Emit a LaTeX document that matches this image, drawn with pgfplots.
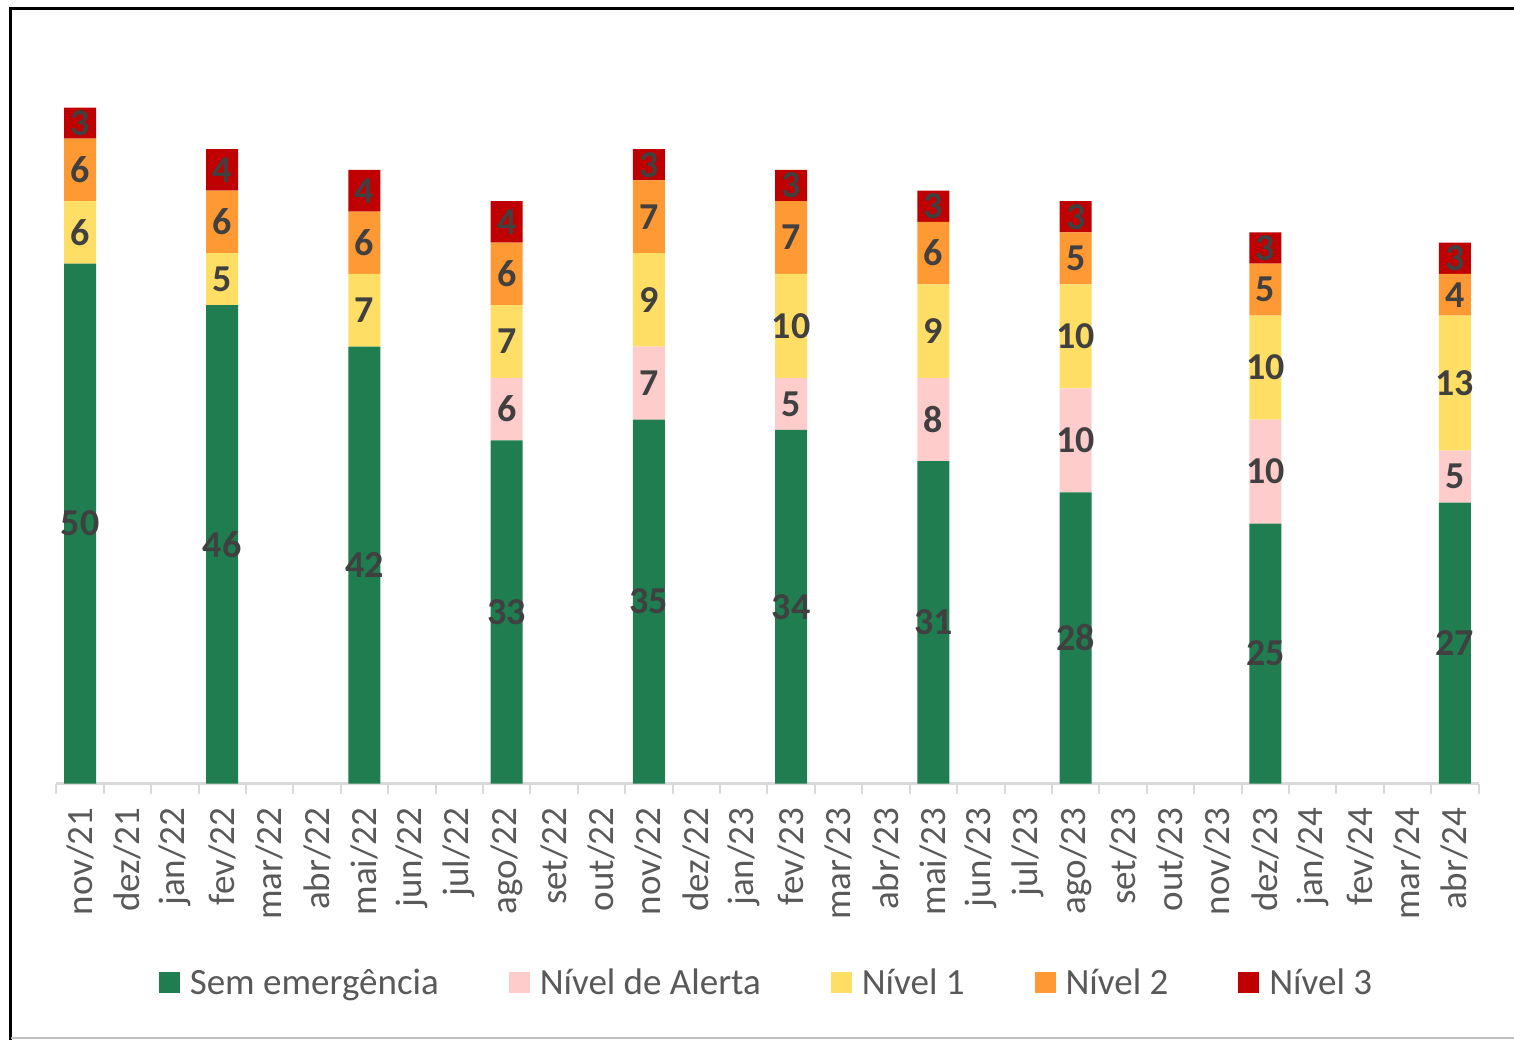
\documentclass[border=0pt]{standalone}
\usepackage{pgfplots}
\usepackage{pgfplotstable}
\pgfplotsset{compat=1.18}
\usepackage{fontspec}
\setmainfont{Carlito}
\definecolor{cSE}{HTML}{1F7D4F}
\definecolor{cNA}{HTML}{FFCCCC}
\definecolor{cNi}{HTML}{FFDE66}
\definecolor{cNii}{HTML}{FF9933}
\definecolor{cNiii}{HTML}{C00000}
\definecolor{lbl}{HTML}{404040}
\definecolor{txt}{HTML}{595959}
\definecolor{axg}{HTML}{D9D9D9}

\pgfplotstableread{
x  se na n1 n2 n3
0  50 0  6  6  3
3  46 0  5  6  4
6  42 0  7  6  4
9  33 6  7  6  4
12 35 7  9  7  3
15 34 5  10 7  3
18 31 8  9  6  3
21 28 10 10 5  3
25 25 10 10 5  3
29 27 5  13 4  3
}\data

\begin{document}
\begin{tikzpicture}
\useasboundingbox (0,0) rectangle (757pt,520pt);
\draw[line width=1.5pt] (5.25pt,0) -- (5.25pt,515.75pt) -- (762pt,515.75pt);
\draw[black!25, line width=1pt] (5.25pt,1pt) -- (762pt,1pt);
\begin{axis}[
  at={(28.15pt,128.25pt)}, anchor=south west,
  scale only axis, width=711.15pt, height=364pt,
  ybar stacked, bar width=16pt,
  xmin=-0.5, xmax=29.5, ymin=0, ymax=70,
  axis x line*=bottom, axis y line=none,
  x axis line style={draw=axg, line width=1.3pt, -},
  xtick={0,...,29},
  xticklabels={nov/21,dez/21,jan/22,fev/22,mar/22,abr/22,mai/22,jun/22,jul/22,ago/22,set/22,out/22,nov/22,dez/22,jan/23,fev/23,mar/23,abr/23,mai/23,jun/23,jul/23,ago/23,set/23,out/23,nov/23,dez/23,jan/24,fev/24,mar/24,abr/24},
  major tick length=0pt,
  major x tick style={draw=none},
  minor xtick={-0.5,0.5,...,29.5},
  minor tick length=5pt,
  minor x tick style={draw=axg, line width=1pt},
  tick align=outside,
  xticklabel style={rotate=90, anchor=east, inner xsep=12pt, inner ysep=0pt, text=txt, font=\fontsize{18.5}{20}\selectfont},
  /pgf/number format/assume math mode=true,
  point meta=explicit,
  nodes near coords={\pgfmathfloatifflags{\pgfplotspointmeta}{0}{}{\pgfmathprintnumber{\pgfplotspointmeta}}},
  every node near coord/.append style={anchor=center, text=lbl, font=\fontsize{19}{20}\selectfont\bfseries},
  legend columns=5,
  legend style={draw=none, at={(0.5,-0.2747)}, anchor=center, text=txt, font=\fontsize{18.5}{20}\selectfont,
    /tikz/every even column/.append style={column sep=33pt}},
  legend cell align=left,
  legend image code/.code={\fill[#1] (0pt,-5pt) rectangle (10.5pt,5.5pt);},
  legend style={/tikz/every odd column/.append style={column sep=3pt}},
]
\addplot[fill=cSE, draw=none] table[x=x, y=se, meta=se] {\data};
\addplot[fill=cNA, draw=none] table[x=x, y=na, meta=na] {\data};
\addplot[fill=cNi, draw=none] table[x=x, y=n1, meta=n1] {\data};
\addplot[fill=cNii, draw=none] table[x=x, y=n2, meta=n2] {\data};
\addplot[fill=cNiii, draw=none] table[x=x, y=n3, meta=n3] {\data};
\legend{Sem emergência, Nível de Alerta, Nível 1, Nível 2, Nível 3}
\end{axis}
\end{tikzpicture}
\end{document}
